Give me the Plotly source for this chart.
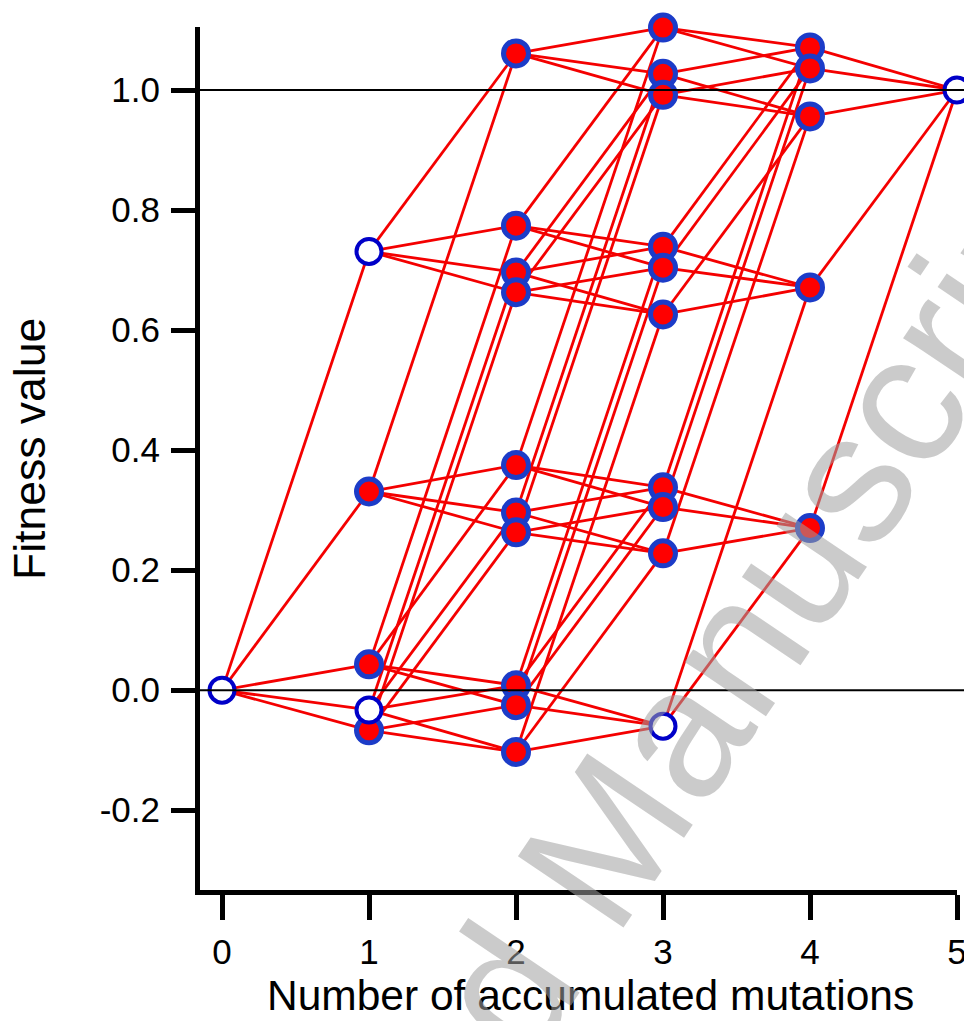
import plotly.graph_objects as go

# Genotypes (sets of accumulated mutations) and their fitness values
genotypes = ["", "a", "b", "c", "d", "e",
             "ab", "ac", "ad", "ae", "bc", "bd", "be", "cd", "ce", "de",
             "abc", "abd", "abe", "acd", "ace", "ade", "bcd", "bce", "bde", "cde",
             "abcd", "abce", "abde", "acde", "bcde", "abcde"]
fitness = [0.0, 0.331, 0.731, 0.043, -0.033, -0.067,
           1.061, 0.375, 0.296, 0.263, 0.774, 0.696, 0.663, 0.008, -0.025, -0.103,
           1.104, 1.027, 0.992, 0.338, 0.305, 0.228, 0.739, 0.704, 0.626, -0.060,
           1.071, 1.036, 0.956, 0.270, 0.671, 1.0]
open_genotypes = ["", "b", "d", "cde", "abcde"]

x_ticks = [0, 1, 2, 3, 4, 5]
y_ticks = [-0.2, 0.0, 0.2, 0.4, 0.6, 0.8, 1.0]
y_ticklabels = ["-0.2", "0.0", "0.2", "0.4", "0.6", "0.8", "1.0"]
ref_lines = [0.0, 1.0]

nmut = [len(g) for g in genotypes]
fit = dict(zip(genotypes, fitness))

# Hypercube edges: genotypes differing by a single mutation
ex, ey = [], []
for g1 in genotypes:
    for g2 in genotypes:
        if len(g2) == len(g1) + 1 and set(g1).issubset(set(g2)):
            ex += [len(g1), len(g2), None]
            ey += [fit[g1], fit[g2], None]

fig = go.Figure()
fig.add_trace(go.Scatter(x=ex, y=ey, mode="lines",
                         line=dict(color="#f40000", width=2.8),
                         hoverinfo="skip", cliponaxis=False))

fx = [n for g, n in zip(genotypes, nmut) if g not in open_genotypes]
fy = [f for g, f in zip(genotypes, fitness) if g not in open_genotypes]
ox = [n for g, n in zip(genotypes, nmut) if g in open_genotypes]
oy = [f for g, f in zip(genotypes, fitness) if g in open_genotypes]

fig.add_trace(go.Scatter(x=fx, y=fy, mode="markers", cliponaxis=False,
                         marker=dict(size=25, color="#ff0000",
                                     line=dict(color="#1c3cc8", width=5))))
fig.add_trace(go.Scatter(x=ox, y=oy, mode="markers", cliponaxis=False,
                         marker=dict(size=25, color="white",
                                     line=dict(color="#0000c8", width=4))))

# page body has an 8px margin, so the figure is sized to the visible area
W, H = 964, 1013
L, R, T, B = 192, 15, 19, 131
pw = W - L - R
ph = H - T - B

for v in ref_lines:
    fig.add_shape(type="line", xref="paper", yref="y",
                  x0=0, x1=(W - L) / pw, y0=v, y1=v,
                  line=dict(color="black", width=2), layer="above")

font = "Liberation Sans, Arial, sans-serif"
fig.update_layout(
    width=W, height=H,
    margin=dict(l=L, r=R, t=T, b=B, autoexpand=False),
    plot_bgcolor="white", paper_bgcolor="white",
    showlegend=False,
    font=dict(family=font, color="black"),
    xaxis=dict(range=[-0.1497, 5.0], tickvals=x_ticks, automargin=False,
               showgrid=False, zeroline=False,
               showline=True, linecolor="black", linewidth=5,
               ticks="outside", ticklen=25, tickwidth=4.5, tickcolor="black",
               ticklabelstandoff=2,
               tickfont=dict(size=35, family=font)),
    yaxis=dict(range=[-0.333, 1.105], tickvals=y_ticks, ticktext=y_ticklabels,
               automargin=False,
               showgrid=False, zeroline=False,
               showline=True, linecolor="black", linewidth=5,
               ticks="outside", ticklen=24, tickwidth=4.5, tickcolor="black",
               ticklabelstandoff=4,
               tickfont=dict(size=35, family=font)),
)

# axis titles (placed as in the reference)
fig.add_annotation(text="Number of accumulated mutations", xref="paper", yref="paper",
                   x=(582 - L) / pw, y=(H - B - 987) / ph,
                   xanchor="center", yanchor="middle", showarrow=False,
                   font=dict(size=42.5, family=font, color="black"))
fig.add_annotation(text="Fitness value", xref="paper", yref="paper",
                   x=(21 - L) / pw, y=(H - B - 441) / ph, textangle=-90,
                   xanchor="center", yanchor="middle", showarrow=False,
                   font=dict(size=44.5, family=font, color="black"))

# Watermark
fig.add_annotation(text="Accepted Manuscript", xref="paper", yref="paper",
                   x=(577 - L) / pw, y=(H - B - 862) / ph,
                   xanchor="center", yanchor="middle",
                   showarrow=False, textangle=-56,
                   font=dict(size=185, family=font, color="rgba(160,160,160,0.55)"))

fig.write_html("out.html")
